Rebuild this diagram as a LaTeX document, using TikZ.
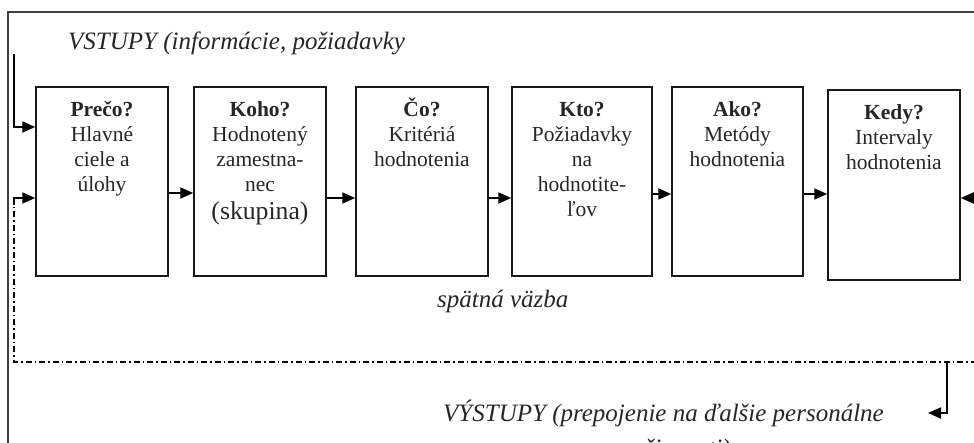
\documentclass[tikz,border=0pt]{standalone}
\usepackage{fontspec}
\setmainfont{Liberation Serif}
\usetikzlibrary{arrows.meta}
\newcommand{\firstrow}{\rule{0pt}{20pt}}
\begin{document}
\begin{tikzpicture}[x=1pt,y=-1pt,
  box/.style={draw=black!90, line width=1.5pt, minimum width=132pt, minimum height=189pt, inner sep=0pt},
  btxt/.style={align=center, anchor=north, inner sep=0pt, font=\fontsize{21.5}{25}\selectfont, text=black!85},
  ital/.style={font=\fontsize{25}{28}\selectfont\itshape, anchor=base west, inner sep=0pt, text=black!85},
  arr/.style={line width=1.8pt, -{Triangle[length=13pt,width=11pt]}},
  fb/.style={line width=1.2pt, dash pattern=on 6pt off 3pt on 1.5pt off 3pt},
  frame/.style={line width=1.1pt, draw=black!75}]
\useasboundingbox (0,0) rectangle (974,443);
\clip (0,0) rectangle (974,443);
\fill[white] (0,0) rectangle (974,443);
\draw[frame] (8,470) -- (8,12) -- (990,12);

\node[box] (b1) at (102,181.5) {};
\node[box] (b2) at (260,181.5) {};
\node[box] (b3) at (422,181.5) {};
\node[box, minimum width=140pt] (b4) at (582,181.5) {};
\node[box, minimum width=131pt] (b5) at (737.5,181.5) {};
\node[box, minimum height=190pt] (b6) at (894,185) {};

\node[btxt] (t1) at ([yshift=-10pt]b1.north) {\firstrow{\bfseries Prečo?}\\Hlavné\\ciele a\\úlohy};
\node[btxt] (t2) at ([yshift=-10pt]b2.north) {\firstrow{\bfseries Koho?}\\Hodnotený\\zamestna-\\nec\\[3pt]{\fontsize{25.7}{28}\selectfont (skupina)}};
\node[btxt] (t3) at ([yshift=-10pt]b3.north) {\firstrow{\bfseries Čo?}\\Kritériá\\hodnotenia};
\node[btxt] (t4) at ([yshift=-10pt]b4.north) {\firstrow{\bfseries Kto?}\\Požiadavky\\na\\hodnotite-\\ľov};
\node[btxt] (t5) at ([yshift=-10pt]b5.north) {\firstrow{\bfseries Ako?}\\Metódy\\hodnotenia};
\node[btxt] (t6) at ([yshift=-10pt]b6.north) {\firstrow{\bfseries Kedy?}\\Intervaly\\hodnotenia};

\draw[arr] ([yshift=-11.5pt]b1.east) -- ([yshift=-11.5pt]b2.west);
\draw[arr] ([yshift=-16.5pt]b2.east) -- ([yshift=-16.5pt]b3.west);
\draw[arr] ([yshift=-16.5pt]b3.east) -- ([yshift=-16.5pt]b4.west);
\draw[arr] ([yshift=-12.5pt]b4.east) -- ([yshift=-12.5pt]b5.west);
\draw[arr] ([yshift=-12.5pt]b5.east) -- ([yshift=-9pt]b6.west);

\coordinate (in) at (14,54);
\draw[arr] (in) |- ([yshift=54.5pt]b1.west);

\coordinate (fbR) at (990,362);
\coordinate (fbC) at (14,362);
\coordinate (fbT) at (14,205);
\draw[fb] (fbR) -- (fbC) -- (fbT);
\draw[arr] (fbT) |- ([yshift=-16.5pt]b1.west);

\coordinate (rin) at (990,198);
\draw[arr] (rin) -- ([yshift=-13pt]b6.east);

\coordinate (o1) at (947,362);
\coordinate (o2) at (928,413);
\draw[arr] (o1) |- (o2);

\node[ital] (vst) at (68,50) {VSTUPY (informácie, požiadavky};
\node[ital] (spv) at (437,308) {spätná väzba};
\node[ital] (vys) at (443,421) {VÝSTUPY (prepojenie na ďalšie personálne};
\node[ital] (vys2) at (643,456) {činnosti)};
\end{tikzpicture}
\end{document}
